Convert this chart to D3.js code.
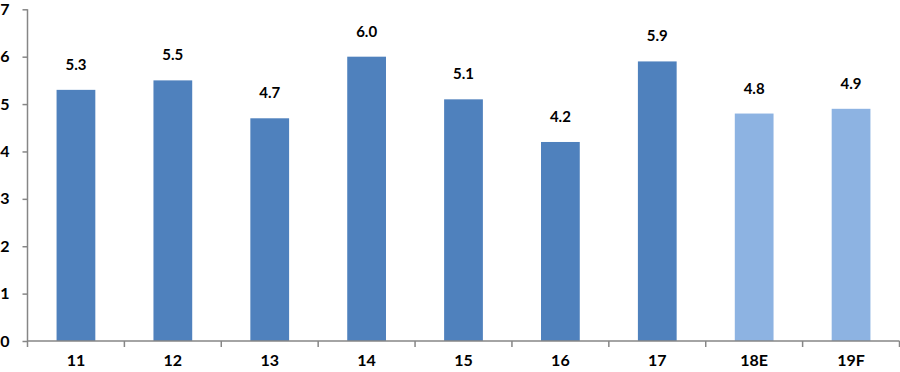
<!DOCTYPE html>
<html><head><meta charset="utf-8">
<script src="https://cdn.jsdelivr.net/npm/d3@7"></script>
<style>body{margin:0;background:#fff;}svg{display:block;font-family:Lato,"Noto Sans",sans-serif;}</style>
</head><body><svg id="c" width="900" height="372"></svg>
<script>
const categories = ["11","12","13","14","15","16","17","18E","19F"];
const values = [5.3,5.5,4.7,6.0,5.1,4.2,5.9,4.8,4.9];
const forecast = [false,false,false,false,false,false,false,true,true];
const yTicks = [0,1,2,3,4,5,6,7];

const svg = d3.select("#c");
const x0 = 27.5, x1 = 899.5, yTop = 9.3, yBot = 341;
const x = d3.scaleBand().domain(categories).range([x0, x1]).paddingInner(0.6).paddingOuter(0.3);
const y = d3.scaleLinear().domain([0,7]).range([yBot, yTop]);

svg.selectAll("rect.bar").data(values).join("rect")
  .attr("class","bar")
  .attr("x",(d,i)=>x(categories[i]))
  .attr("width",x.bandwidth())
  .attr("y",d=>y(d))
  .attr("height",d=>yBot-y(d))
  .attr("fill",(d,i)=>forecast[i]?"#8DB3E2":"#4F81BD");

svg.selectAll("text.lbl").data(values).join("text")
  .attr("class","lbl")
  .attr("x",(d,i)=>x(categories[i])+x.bandwidth()/2)
  .attr("y",d=>y(d)-20)
  .attr("text-anchor","middle")
  .attr("font-size",15).attr("font-weight","bold").attr("fill","#000")
  .text(d=>d.toFixed(1));

// y axis
const gy = svg.append("g").attr("transform",`translate(${x0},0)`)
  .call(d3.axisLeft(y).tickValues(yTicks).tickSize(5).tickPadding(13).tickFormat(d3.format("d")));
gy.select(".domain").attr("d",`M0,${yTop}V${yBot+6}`).attr("stroke","#868686").attr("stroke-width",1.5);
gy.selectAll(".tick line").attr("stroke","#868686").attr("stroke-width",1.5);
gy.selectAll(".tick text").attr("font-size",16).attr("font-weight","bold").attr("fill","#000").attr("font-family","Lato,sans-serif");

// x axis
const gx = svg.append("g").attr("transform",`translate(0,${yBot})`)
  .call(d3.axisBottom(x).tickSize(0).tickPadding(14));
gx.select(".domain").attr("d",`M${x0},0H${x1}`).attr("stroke","#868686").attr("stroke-width",1.5);
gx.selectAll(".tick text").attr("font-size",16).attr("font-weight","bold").attr("fill","#000").attr("font-family","Lato,sans-serif");
const step = x.step();
const bounds = d3.range(1, categories.length+1).map(i => x0 + (x1-x0)*i/categories.length);
gx.selectAll("line.bt").data(bounds).join("line").attr("class","bt")
  .attr("x1",d=>d).attr("x2",d=>d).attr("y1",0).attr("y2",6)
  .attr("stroke","#868686").attr("stroke-width",1.5);
</script></body></html>
